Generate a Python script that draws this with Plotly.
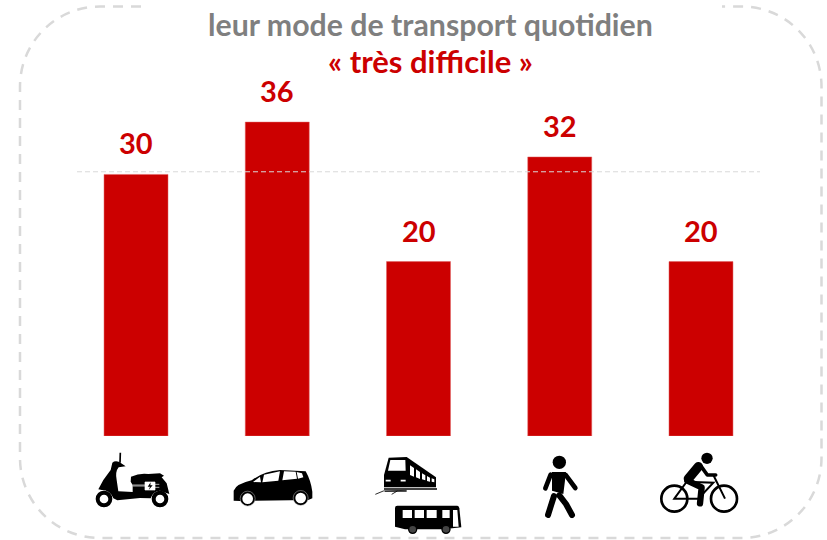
import base64
import plotly.graph_objects as go

# ---------- data ----------
categories = ["Scooter", "Voiture", "Transports en commun", "Marche", "Vélo"]
values = [30, 36, 20, 32, 20]
reference_value = 30.3
title_line_1 = "leur mode de transport quotidien"
title_line_2 = "« très difficile »"

RED = "#cc0000"
GREY = "#7f7f7f"
DASH = "#d9d9d9"
FONT = "Lato, Carlito, Calibri, sans-serif"
W, H = 827, 540


def px(x):
    return x / W


def py(y):
    return 1 - y / H


# ---------- icons (SVG, in 3x zoomed pixel units) ----------
scooter = """
<path d="M181,68 L180,98" stroke="#000" stroke-width="5" fill="none"/>
<path d="M157,98 Q165,91 178,96 L197,109 L176,112 Q165,125 170,150 L175,184 L218,186 L218,165 L212,155 L213,140
 Q240,128 265,132 L300,130 L312,137 L305,142 L320,160 L328,192 L300,182 Q280,182 272,205 L240,204 L172,211 L160,205
 Q150,180 125,180 L115,178 L130,150 L152,120 Z" fill="#000"/>
<circle cx="132" cy="207" r="19" fill="#fff" stroke="#000" stroke-width="12"/>
<circle cx="300" cy="207" r="19" fill="#fff" stroke="#000" stroke-width="12"/>
<path d="M218,165 L255,165 M218,168 L255,168" stroke="#fff" stroke-width="2"/>
<path d="M255,156 L285,156 L285,180 L255,180 Z M285,163 L298,163 M285,172 L298,172" fill="#fff" stroke="#fff" stroke-width="2"/>
<path d="M272,157 L263,170 L270,170 L266,180 L278,166 L271,166 Z" fill="#000"/>
"""
car = """
<path d="M521,212 L521,182 Q528,162 575,151 Q610,124 660,120 L737,124 Q752,150 757,185 L757,205 L745,210 L540,213 Z" fill="#000"/>
<path d="M579,156 L600,140 L603,157 Z M607,157 L612,134 L660,124 L655,152 Z M667,151 L672,124 L707,125 L711,146 Z M714,146 L710,126 L726,130 L730,142 Z" fill="#fff"/>
<circle cx="563" cy="206" r="19" fill="#fff" stroke="#000" stroke-width="6"/>
<circle cx="563" cy="206" r="22.5" fill="none" stroke="#bbb" stroke-width="1.5"/>
<circle cx="722" cy="204" r="19" fill="#fff" stroke="#000" stroke-width="6"/>
<circle cx="722" cy="204" r="22.5" fill="none" stroke="#bbb" stroke-width="1.5"/>
"""
train = """
<path d="M986,83 L1040,81 L1128,142 L1128,172 L972,172 L972,135 Z" fill="#000"/>
<path d="M991,90 L1036,90 L1037,122 L984,122 Z" fill="#fff"/>
<path d="M1050,106 L1062,114 L1062,140 L1050,135 Z M1068,118 L1080,126 L1080,147 L1068,142 Z M1086,130 L1096,136 L1096,151 L1086,148 Z
 M1101,138 L1110,143 L1110,155 L1101,153 Z M1115,145 L1123,148 L1123,157 L1115,155 Z" fill="#fff"/>
<path d="M977,152 L992,152 M1022,152 L1037,152" stroke="#fff" stroke-width="5"/>
<path d="M972,177 L1131,177" stroke="#000" stroke-width="5"/>
<path d="M946,193 L970,183 L1040,181 M995,193 L1012,183 M975,184 L1040,184" stroke="#000" stroke-width="2.5" fill="none"/>
"""
bus = """
<path d="M1012,227 L1192,227 Q1197,227 1198,235 L1204,292 L1150,298 L1035,298 L1005,290 L1005,234 Q1005,227 1012,227 Z" fill="#000"/>
<path d="M1028,240 H1056 V264 H1028 Z M1064,240 H1092 V264 H1064 Z M1100,240 H1130 V264 H1100 Z M1147,240 H1169 V264 H1147 Z
 M1179,240 H1192 L1196,290 H1179 Z" fill="#fff"/>
<circle cx="1058" cy="298" r="12" fill="#444" stroke="#000" stroke-width="4"/>
<circle cx="1158" cy="298" r="12" fill="#444" stroke="#000" stroke-width="4"/>
"""
walker = """
<circle cx="238" cy="97" r="20" fill="#000"/>
<path d="M216,126 L258,126 L250,192 L216,182 Z" fill="#000"/>
<path d="M212,134 L196,175 M258,136 L286,174" stroke="#000" stroke-width="14" stroke-linecap="round" fill="none"/>
<path d="M222,198 L204,255" stroke="#000" stroke-width="18" stroke-linecap="round" fill="none"/>
<path d="M238,196 L258,222 L276,255" stroke="#000" stroke-width="18" stroke-linecap="round" stroke-linejoin="round" fill="none"/>
"""
cyclist = """
<circle cx="583" cy="206" r="39" fill="none" stroke="#000" stroke-width="8"/>
<circle cx="732" cy="206" r="39" fill="none" stroke="#000" stroke-width="8"/>
<circle cx="681" cy="85" r="17" fill="#000"/>
<path d="M655,110 L625,146" stroke="#000" stroke-width="28" stroke-linecap="round" fill="none"/>
<path d="M664,110 L682,135 L707,135" stroke="#000" stroke-width="11" stroke-linecap="round" stroke-linejoin="round" fill="none"/>
<path d="M622,152 L665,172 L660,220" stroke="#000" stroke-width="19" stroke-linecap="round" stroke-linejoin="round" fill="none"/>
<path d="M583,206 L620,155 L700,158 L655,206 Z M700,135 L735,206" stroke="#000" stroke-width="6" fill="none"/>
"""

icons = [
    # svg, zoom origin x, y, viewBox x, y, w, h
    (scooter, 60, 430, 100, 60, 240, 180),
    (car, 60, 430, 510, 110, 260, 130),
    (train, 60, 430, 940, 75, 200, 125),
    (bus, 60, 430, 1000, 220, 210, 95),
    (walker, 480, 430, 180, 70, 120, 195),
    (cyclist, 480, 430, 535, 60, 245, 195),
]

images = []
for svg, ox, oy, vx, vy, vw, vh in icons:
    doc = (
        f'<svg xmlns="http://www.w3.org/2000/svg" width="{vw}" height="{vh}" '
        f'viewBox="{vx} {vy} {vw} {vh}">{svg}</svg>'
    )
    src = "data:image/svg+xml;base64," + base64.b64encode(doc.encode()).decode()
    images.append(dict(
        source=src, xref="paper", yref="paper",
        x=px(ox + vx / 3), y=py(oy + vy / 3),
        sizex=vw / 3 / W, sizey=vh / 3 / H,
        xanchor="left", yanchor="top", sizing="stretch", layer="above",
    ))

# ---------- figure ----------
fig = go.Figure(go.Bar(
    x=categories, y=values,
    marker=dict(color=RED, line=dict(color="#e06060", width=0.5)),
    hoverinfo="x+y",
))

annotations = [
    dict(x=c, y=v, xref="x", yref="y", text=f"<b>{v}</b>", showarrow=False,
         xanchor="center", yanchor="bottom", yshift=12,
         font=dict(family=FONT, size=29, color=RED))
    for c, v in zip(categories, values)
]
annotations += [
    dict(x=px(430), y=py(24), xref="paper", yref="paper", text=f"<b>{title_line_1}</b>",
         showarrow=False, xanchor="center", yanchor="middle",
         font=dict(family=FONT, size=30.3, color=GREY)),
    dict(x=px(430), y=py(61), xref="paper", yref="paper", text=f"<b>{title_line_2}</b>",
         showarrow=False, xanchor="center", yanchor="middle",
         font=dict(family=FONT, size=31, color=RED)),
]

# dashed rounded frame, open at the top around the title
L, R, T, B, r = 20, 821.5, 6.5, 538, 80
gap_l, gap_r = 141, 722
c = 0.5523 * r


def P(x, y):
    return f"{px(x):.5f},{py(y):.5f}"


frame = (
    f"M{P(gap_l, T)} L{P(L + r, T)} "
    f"C{P(L + r - c, T)} {P(L, T + r - c)} {P(L, T + r)} "
    f"L{P(L, B - r)} "
    f"C{P(L, B - r + c)} {P(L + r - c, B)} {P(L + r, B)} "
    f"L{P(R - r, B)} "
    f"C{P(R - r + c, B)} {P(R, B - r + c)} {P(R, B - r)} "
    f"L{P(R, T + r)} "
    f"C{P(R, T + r - c)} {P(R - r + c, T)} {P(R - r, T)} "
    f"L{P(gap_r, T)}"
)

shapes = [
    dict(type="path", path=frame, xref="paper", yref="paper", layer="above",
         line=dict(color=DASH, width=2.5, dash="10px,8px")),
    dict(type="line", xref="paper", yref="y", x0=px(77), x1=px(760),
         y0=reference_value, y1=reference_value, layer="above",
         line=dict(color=DASH, width=1, dash="5px,3px")),
]

fig.update_layout(
    width=W, height=H,
    margin=dict(l=0, r=0, t=0, b=0),
    paper_bgcolor="white", plot_bgcolor="white",
    showlegend=False, bargap=0.547,
    font=dict(family=FONT),
    xaxis=dict(domain=[px(65.4), px(771.6)], visible=False, type="category"),
    yaxis=dict(domain=[py(436), 1], range=[0, 436 / 8.72], visible=False),
    annotations=annotations, shapes=shapes, images=images,
)

fig.write_html(
    "out.html",
    config={"displayModeBar": False},
    post_script=(
        "document.body.style.margin='0';"
        "document.documentElement.style.overflow='hidden';"
    ),
)
